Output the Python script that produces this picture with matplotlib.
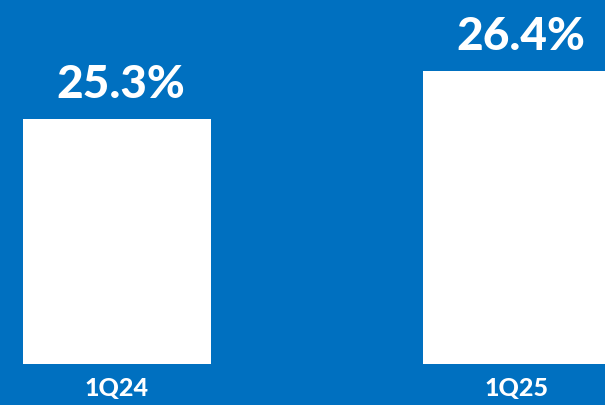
import matplotlib
matplotlib.use("Agg")
from matplotlib import pyplot as plt

quarters = ["1Q24", "1Q25"]
values = [25.3, 26.4]
value_labels = ["25.3%", "26.4%"]

bg = "#0070C0"

fig = plt.figure(figsize=(6.05, 4.06), dpi=100)
fig.patch.set_facecolor(bg)
ax = fig.add_axes([0, 41 / 406, 1, 365 / 406])
ax.set_facecolor(bg)

x = range(len(quarters))
bars = ax.bar(x, values, width=0.47, color="white")

ax.set_xlim(-0.2925, 1.22)
ax.set_ylim(19.7, 28.04)

for b, lab in zip(bars, value_labels):
    ax.annotate(lab, (b.get_x() + b.get_width() / 2, b.get_height()),
                xytext=(3, 10), textcoords="offset points",
                ha="center", va="bottom", color="white",
                fontsize=33, fontweight="black", family="Lato")

ax.set_xticks(list(x))
ax.set_xticklabels(quarters, color="white", fontsize=18,
                   fontweight="black", family="Lato")
ax.tick_params(axis="x", length=0, pad=9)
ax.set_yticks([])
for s in ax.spines.values():
    s.set_visible(False)

fig.savefig("out.png", dpi=100, facecolor=bg)
